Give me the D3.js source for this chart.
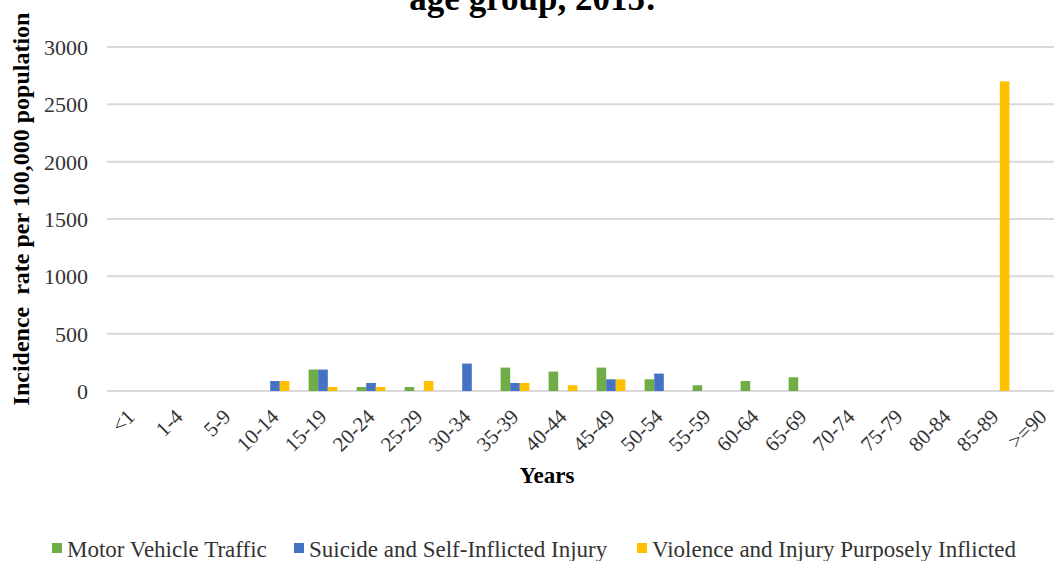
<!DOCTYPE html>
<html>
<head>
<meta charset="utf-8">
<script src="https://cdn.jsdelivr.net/npm/d3@7"></script>
<style>
  html, body { margin: 0; padding: 0; background: #fff; }
  svg { display: block; }
  text { font-family: "Liberation Serif", "Times New Roman", serif; }
</style>
</head>
<body>
<svg id="chart" width="1054" height="561"></svg>
<script>
// Age groups (x categories)
const ageGroups = ["<1", "1-4", "5-9", "10-14", "15-19", "20-24", "25-29", "30-34", "35-39",
  "40-44", "45-49", "50-54", "55-59", "60-64", "65-69", "70-74", "75-79", "80-84", "85-89", ">=90"];

// Incidence rate per 100,000 population, by cause
const motorVehicle = [0, 0, 0, 0, 187, 35, 35, 0, 204, 169, 204, 102, 50, 87, 120, 0, 0, 0, 0, 0];
const suicide      = [0, 0, 0, 87, 187, 70, 0, 239, 70, 0, 102, 152, 0, 0, 0, 0, 0, 0, 0, 0];
const violence     = [0, 0, 0, 87, 35, 35, 87, 0, 70, 50, 102, 0, 0, 0, 0, 0, 0, 0, 2700, 0];

const seriesNames = ["Motor Vehicle Traffic", "Suicide and Self-Inflicted Injury", "Violence and Injury Purposely Inflicted"];
const seriesColors = ["#70AD47", "#4472C4", "#FFC000"];
const yTicks = [0, 500, 1000, 1500, 2000, 2500, 3000];

const seriesValues = [motorVehicle, suicide, violence];

const svg = d3.select("#chart");

const plot = { left: 107, right: 1067, top: 47, bottom: 391 };

const x0 = d3.scaleBand()
  .domain(ageGroups)
  .range([plot.left, plot.right])
  .paddingInner(0.4)
  .paddingOuter(0.2);

const x1 = d3.scaleBand()
  .domain(seriesNames)
  .range([0, x0.bandwidth()]);

const y = d3.scaleLinear()
  .domain([0, 3000])
  .range([plot.bottom, plot.top]);

// Horizontal gridlines
svg.append("g")
  .selectAll("line")
  .data(yTicks)
  .join("line")
  .attr("x1", plot.left)
  .attr("x2", plot.right)
  .attr("y1", d => y(d))
  .attr("y2", d => y(d))
  .attr("stroke", "#d9d9d9")
  .attr("stroke-width", 2);

// Y axis tick labels
const yAxis = d3.axisLeft(y).tickValues(yTicks).tickFormat(d3.format("d")).tickSize(0).tickPadding(0);
const yAxisG = svg.append("g")
  .attr("transform", `translate(88,0)`)
  .call(yAxis);
yAxisG.select(".domain").remove();
yAxisG.selectAll("text")
  .attr("font-family", "Liberation Serif, serif")
  .attr("font-size", 22)
  .attr("fill", "#333")
  .attr("dy", "0.34em");

// Bars
const groups = svg.append("g")
  .selectAll("g")
  .data(ageGroups.map((a, i) => ({ age: a, vals: seriesNames.map((s, k) => ({ s, v: seriesValues[k][i], c: seriesColors[k] })) })))
  .join("g")
  .attr("transform", d => `translate(${x0(d.age)},0)`);

groups.selectAll("rect")
  .data(d => d.vals.filter(e => e.v > 0))
  .join("rect")
  .attr("x", d => x1(d.s))
  .attr("width", x1.bandwidth())
  .attr("y", d => y(d.v))
  .attr("height", d => y(0) - y(d.v))
  .attr("fill", d => d.c);

// X axis category labels, rotated
const xAxis = d3.axisBottom(x0).tickSize(0).tickPadding(0);
const xAxisG = svg.append("g")
  .attr("transform", `translate(0,${plot.bottom})`)
  .call(xAxis);
xAxisG.select(".domain").remove();
xAxisG.selectAll("text")
  .attr("font-family", "Liberation Serif, serif")
  .attr("font-size", 21)
  .attr("fill", "#333")
  .attr("text-anchor", "end")
  .attr("dy", null)
  .attr("y", 0)
  .attr("transform", "translate(5,27) rotate(-45)");

// Title (second line of the heading)
svg.append("text")
  .attr("x", 533)
  .attr("y", 10)
  .attr("text-anchor", "middle")
  .attr("font-weight", "bold")
  .attr("font-size", 35)
  .attr("fill", "#000")
  .text("age group, 2015:");

// Y axis title
svg.append("text")
  .attr("transform", "translate(29,209) rotate(-90)")
  .attr("text-anchor", "middle")
  .attr("font-weight", "bold")
  .attr("font-size", 24)
  .attr("fill", "#000")
  .style("white-space", "pre")
  .text("Incidence  rate per 100,000 population");

// X axis title
svg.append("text")
  .attr("x", 547)
  .attr("y", 483)
  .attr("text-anchor", "middle")
  .attr("font-weight", "bold")
  .attr("font-size", 23)
  .attr("fill", "#000")
  .text("Years");

// Legend
const legendX = [52, 294, 637];
const legend = svg.append("g")
  .selectAll("g")
  .data(seriesNames)
  .join("g")
  .attr("transform", (d, i) => `translate(${legendX[i]},0)`);
legend.append("rect")
  .attr("x", 0)
  .attr("y", 543)
  .attr("width", 10)
  .attr("height", 10)
  .attr("fill", (d, i) => seriesColors[i]);
legend.append("text")
  .attr("x", 15)
  .attr("y", 557)
  .attr("font-size", 23)
  .attr("fill", "#333")
  .text(d => d);
</script>
</body>
</html>
